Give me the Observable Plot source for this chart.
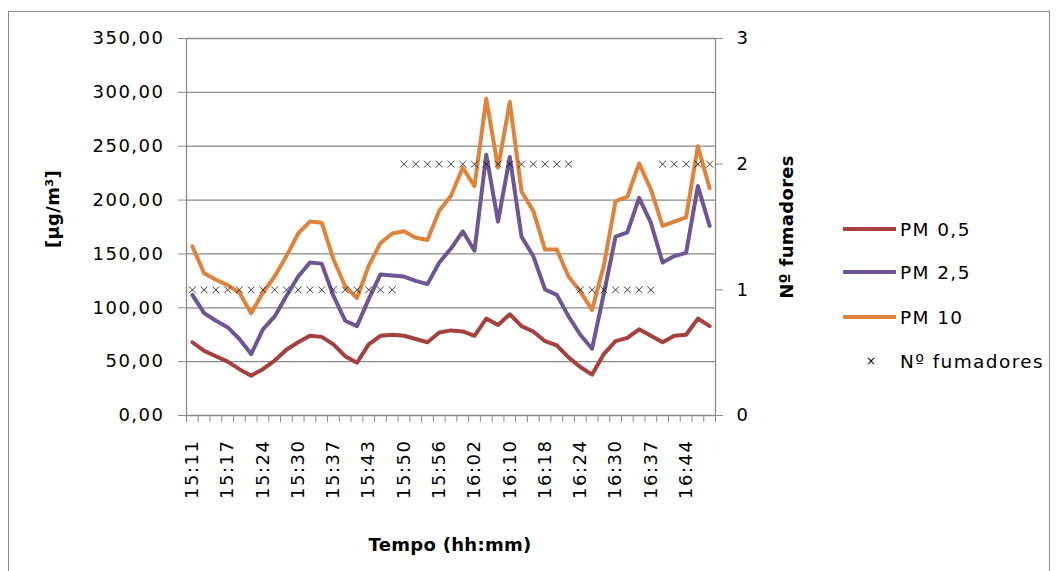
<!DOCTYPE html>
<html>
<head>
<meta charset="utf-8">
<script src="https://cdn.jsdelivr.net/npm/d3@7"></script>
<script src="https://cdn.jsdelivr.net/npm/@observablehq/plot@0.6"></script>
<style>
  body { margin: 0; background: #fff; font-family: "DejaVu Sans", sans-serif; }
  #wrap { position: relative; width: 1058px; height: 571px; overflow: hidden; background: #fff; }
  #frame { position: absolute; left: 8px; top: 11px; width: 1042px; height: 580px; border: 1.5px solid #8a8a8a; box-sizing: border-box; }
  #chart { position: absolute; left: 0; top: 0; }
  .t { position: absolute; white-space: nowrap; color: #000; font-size: 18px; letter-spacing: 1.5px; line-height: 1; }
  .b { font-weight: bold; letter-spacing: 0.3px; }
  .rot { transform: translate(-50%, -50%) rotate(-90deg); }
  .ctr { transform: translate(-50%, -50%); }
  .leg { position: absolute; left: 843px; width: 53px; height: 4px; }
  .legt { position: absolute; left: 900px; transform: translateY(-50%); font-size: 18.5px; letter-spacing: 1.4px; white-space: nowrap; }
</style>
</head>
<body>
<div id="wrap">
  <div id="frame"></div>
  <div id="chart"></div>
</div>
<script>
// Category tick labels (every third sample)
const tickLabels = ["15:11","15:17","15:24","15:30","15:37","15:43","15:50","15:56","16:02","16:10","16:18","16:24","16:30","16:37","16:44"];

// Concentrations [µg/m³]
const pm05 = [68,60,55,50,43,37,43,51,61,68,74,73,66,55,49,66,74,75,74,71,68,77,79,78,74,90,84,94,83,78,69,65,54,45,38,57,69,72,80,74,68,74,75,90,83];
const pm25 = [112,95,88,82,71,57,80,92,111,129,142,141,111,88,83,108,131,130,129,125,122,142,155,171,153,242,180,240,166,148,117,112,92,75,62,113,166,170,202,179,142,148,151,213,176];
const pm10 = [157,132,126,121,114,95,114,129,148,169,180,179,145,120,109,139,160,169,171,165,163,190,204,230,213,294,230,291,208,190,154,154,129,115,98,139,199,203,234,210,176,180,184,250,211];

// Number of smokers (right axis)
const fumadores = [1,1,1,1,1,1,1,1,1,1,1,1,1,1,1,1,1,1,2,2,2,2,2,2,2,2,2,2,2,2,2,2,2,1,1,1,1,1,1,1,2,2,2,2,2];

const seriesNames = ["PM 0,5","PM 2,5","PM 10"];
const seriesColors = ["#A5403D","#6E5596","#E0823A"];
const seriesValues = [pm05, pm25, pm10];

const leftTicks = [0,50,100,150,200,250,300,350];
const rightTicks = [0,1,2,3];
const YMAX = 350, NMAX = 3;
const n = pm05.length;

const rows = seriesValues.flatMap((vals, s) => vals.map((v, i) => ({i, v, name: seriesNames[s]})));
const smokers = fumadores.map((f, i) => ({i, f}));
const toY = f => f * YMAX / NMAX;

const chart = Plot.plot({
  width: 1058,
  height: 571,
  marginLeft: 186,
  marginRight: 343,
  marginTop: 38,
  marginBottom: 156,
  x: {domain: [0, n]},
  y: {domain: [0, YMAX]},
  color: {domain: seriesNames, range: seriesColors},
  style: {fontFamily: "DejaVu Sans", fontSize: "18px", background: "transparent", color: "#000", letterSpacing: "1.5px", overflow: "visible"},
  marks: [
    Plot.gridY(leftTicks.filter(d => d > 0), {stroke: "#8a8a8a", strokeOpacity: 1, strokeWidth: 1.3}),
    Plot.ruleY([0], {stroke: "#8a8a8a", strokeWidth: 1.3}),
    Plot.ruleX([0, n], {stroke: "#8a8a8a", strokeWidth: 1.3}),
    Plot.axisY(leftTicks, {anchor: "left", tickSize: 8, tickPadding: 14, stroke: "#8a8a8a",
      tickFormat: d => d.toFixed(2).replace(".", ","), label: null}),
    Plot.axisY(rightTicks.map(toY), {anchor: "right", tickSize: 7, tickPadding: 14, stroke: "#8a8a8a",
      tickFormat: d => String(Math.round(d * NMAX / YMAX)), label: null}),
    Plot.axisX(d3.range(0, n + 1), {anchor: "bottom", tickSize: 7, stroke: "#8a8a8a", tickFormat: () => "", label: null}),
    Plot.axisX(tickLabels.map((t, k) => k * 3 + 0.5), {anchor: "bottom", tickSize: 0, tickPadding: 24, tickRotate: -90,
      tickFormat: d => tickLabels[Math.round((d - 0.5) / 3)], label: null}),
    Plot.line(rows, {x: d => d.i + 0.5, y: "v", z: "name", stroke: "name", strokeWidth: 4, strokeLinejoin: "round"}),
    Plot.dot(smokers, {x: d => d.i + 0.5, y: d => toY(d.f), symbol: "times", r: 3.2, stroke: "#111", strokeWidth: 0.8})
  ]
});
document.getElementById("chart").appendChild(chart);

// Axis titles and legend (HTML text)
const wrap = document.getElementById("wrap");
function addText(txt, cls, left, top) {
  const el = document.createElement("div");
  el.className = cls;
  el.textContent = txt;
  el.style.left = left + "px";
  el.style.top = top + "px";
  wrap.appendChild(el);
  return el;
}
addText("[µg/m³]", "t b rot", 53, 209);
addText("Nº fumadores", "t b rot", 787, 227);
addText("Tempo (hh:mm)", "t b ctr", 450, 545);

const legendY = [229, 272, 317];
seriesNames.forEach((name, k) => {
  const ln = document.createElement("div");
  ln.className = "leg";
  ln.style.top = (legendY[k] - 2) + "px";
  ln.style.background = seriesColors[k];
  wrap.appendChild(ln);
  addText(name, "legt", 900, legendY[k]);
});
const xm = addText("×", "legt", 866, 361);
xm.style.fontSize = "12px";
addText("Nº fumadores", "legt", 900, 361);
</script>
</body>
</html>
